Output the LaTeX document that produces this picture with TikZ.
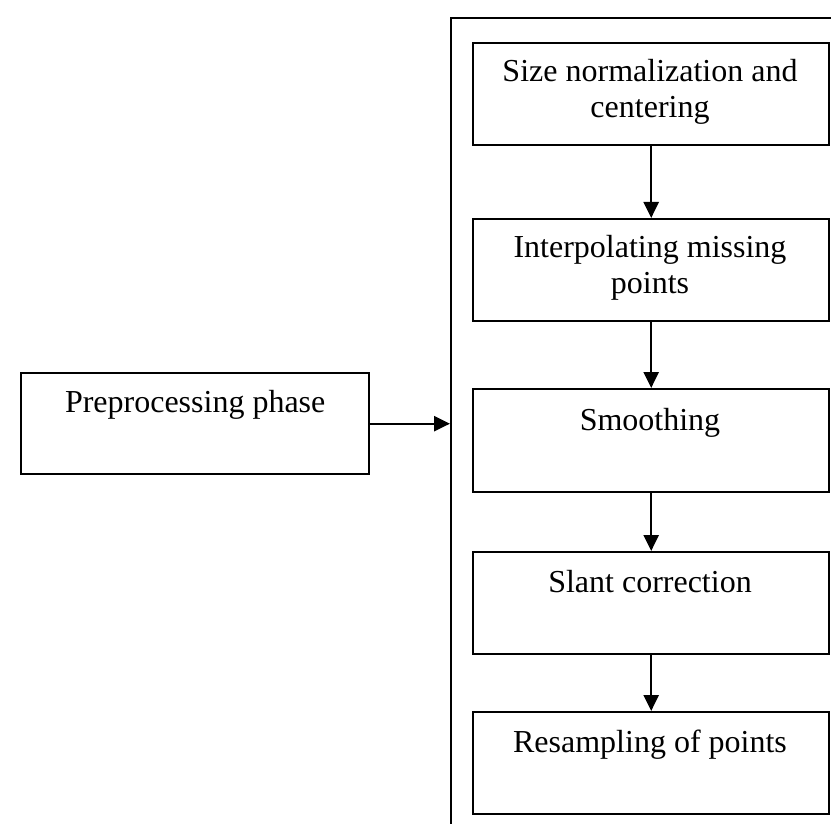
\documentclass[tikz,border=0pt]{standalone}
\usepackage{fontspec}
\setmainfont{Liberation Serif}
\usetikzlibrary{arrows.meta}
\begin{document}
\begin{tikzpicture}[x=1pt,y=-1pt,
  box/.style={draw, line width=2.4pt, rectangle, inner sep=0pt, anchor=north west},
  stagebox/.style={box, minimum width=356pt, minimum height=102pt},
  lbl/.style={font=\fontsize{32}{36}\selectfont, anchor=base, inner sep=0pt},
  conn/.style={line width=2.4pt, -{Triangle[length=16pt,width=15pt]}}]
\useasboundingbox (0,0) rectangle (831,824);
\clip (0,0) rectangle (831,824);
% container (runs off the page to the right and bottom)
\node[box, minimum width=420pt, minimum height=860pt] (frame) at (450,17) {};
% left box
\node[box, minimum width=348pt, minimum height=101pt] (pre) at (20,372) {};
\node[lbl] (pret) at (pre.north |- 0,412) {Preprocessing phase};
% stage boxes
\node[stagebox] (b1) at (472,42) {};
\node[stagebox] (b2) at (472,218) {};
\node[stagebox, minimum height=103pt] (b3) at (472,388) {};
\node[stagebox] (b4) at (472,551) {};
\node[stagebox] (b5) at (472,711) {};
\node[lbl] (b1t) at (650,82) {Size normalization and};
\node[lbl] (b1u) at (650,118) {centering};
\node[lbl] (b2t) at (650,258) {Interpolating missing};
\node[lbl] (b2u) at (650,294) {points};
\node[lbl] (b3t) at (650,430) {Smoothing};
\node[lbl] (b4t) at (650,592) {Slant correction};
\node[lbl] (b5t) at (650,752) {Resampling of points};
% connectors
\draw[conn] (b1.south) -- (b2.north);
\draw[conn] (b2.south) -- (b3.north);
\draw[conn] (b3.south) -- (b4.north);
\draw[conn] (b4.south) -- (b5.north);
\draw[conn] (pre.east) -- (frame.west |- pre.east);
\end{tikzpicture}
\end{document}
